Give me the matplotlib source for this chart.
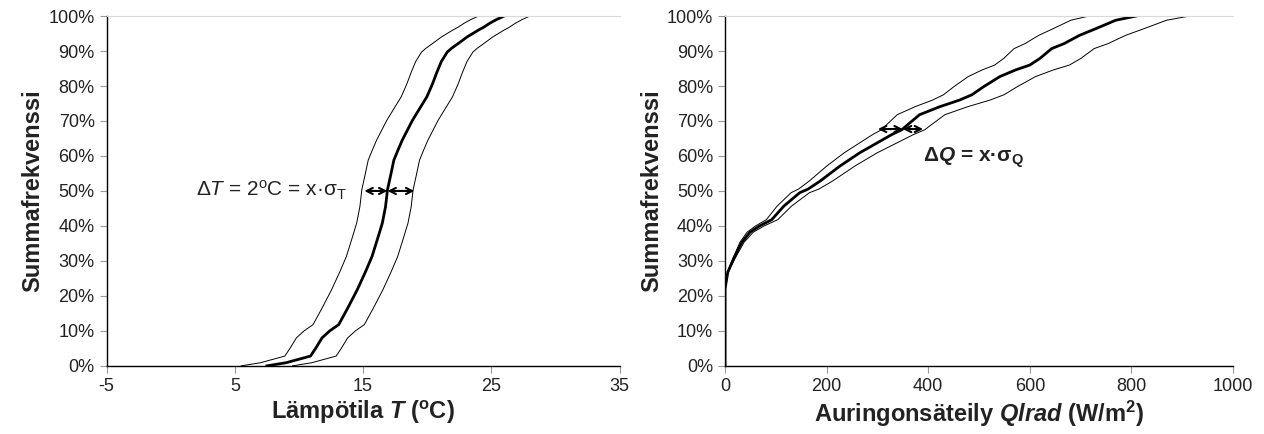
import numpy as np
import matplotlib.pyplot as plt
from matplotlib.ticker import PercentFormatter

plt.rcParams['font.family'] = ['Liberation Sans', 'DejaVu Sans']
plt.rcParams['mathtext.fontset'] = 'custom'
plt.rcParams['mathtext.rm'] = 'Liberation Sans'
plt.rcParams['mathtext.it'] = 'Liberation Sans:italic'
plt.rcParams['mathtext.bf'] = 'Liberation Sans:bold'
plt.rcParams['mathtext.bfit'] = 'Liberation Sans:bold:italic'
plt.rcParams['axes.unicode_minus'] = False

# left panel: temperature cumulative frequency (centre curve)
temp_c = [7.5, 9.0, 10.1, 10.9, 11.3, 11.8, 12.4, 13.1, 13.8, 14.55, 15.2, 15.7,
          16.1, 16.5, 16.75, 16.9, 17.15, 17.4, 17.7, 18.05, 18.4, 18.85, 19.4,
          19.97, 20.4, 20.76, 21.1, 21.56, 21.9, 22.36, 23.1, 23.95, 24.4, 24.9,
          25.4, 26.0]
temp_p = [0.0, 0.9, 2.0, 2.8, 5.0, 8.0, 10.0, 11.8, 16.5, 21.8, 27.0, 31.3,
          36.0, 40.8, 45.5, 50.3, 54.5, 58.8, 61.5, 64.5, 67.0, 70.2, 73.5,
          76.9, 80.5, 84.0, 87.0, 89.7, 90.8, 92.0, 94.0, 95.9, 96.8, 98.0,
          99.0, 100.0]
delta_t = 2.0

# right panel: solar radiation cumulative frequency (centre curve)
rad_q = [0, 0, 5.5, 17, 33, 49, 68, 92, 116, 147, 163, 187, 226, 265, 305, 328,
         348, 360, 383, 423, 462, 486, 509, 541, 572, 600, 620, 643, 667, 698,
         730, 769, 809]
rad_p = [0.0, 22.0, 26.8, 30.6, 35.3, 38.2, 40.0, 41.8, 45.7, 49.5, 50.5, 52.8,
         57.1, 60.9, 64.2, 66.1, 67.5, 69.0, 71.8, 74.1, 76.0, 77.5, 79.8, 82.7,
         84.6, 86.0, 87.9, 90.7, 92.1, 94.5, 96.4, 98.8, 100.0]
q_factor = 1.13

fig = plt.figure(figsize=(12.64, 4.34), dpi=100, facecolor='white')
ax1 = fig.add_axes([0.0843, 0.157, 0.4059, 0.806])
ax2 = fig.add_axes([0.5736, 0.157, 0.4019, 0.806])

tc = np.array(temp_c)
ax1.plot(tc - delta_t, temp_p, color='black', lw=0.7)
ax1.plot(tc + delta_t, temp_p, color='black', lw=0.7)
ax1.plot(tc, temp_p, color='black', lw=2.0)

qc = np.array(rad_q, dtype=float)
ax2.plot(qc / q_factor, rad_p, color='black', lw=0.7)
ax2.plot(qc * q_factor, rad_p, color='black', lw=0.7)
ax2.plot(qc, rad_p, color='black', lw=2.0)

for ax in (ax1, ax2):
    ax.set_ylim(0, 100)
    ax.set_yticks(np.arange(0, 101, 10))
    ax.yaxis.set_major_formatter(PercentFormatter(decimals=0))
    ax.spines['right'].set_visible(False)
    ax.spines['top'].set_color('#d9d9d9')
    for s in ('left', 'bottom'):
        ax.spines[s].set_linewidth(1.0)
    ax.tick_params(labelsize=13, labelcolor='#222222', color='#999999',
                   length=5, width=0.8)
    ax.set_ylabel('Summafrekvenssi', fontsize=17, fontweight='bold',
                  color='#222222', labelpad=3)

ax1.set_xlim(-5, 35)
ax1.set_xticks([-5, 5, 15, 25, 35])
ax1.set_xlabel(r'Lämpötila $\mathbfit{T}$ ($^{\mathbf{o}}$C)', fontsize=17,
               fontweight='bold', color='#222222', labelpad=3)

ax2.set_xlim(0, 1000)
ax2.set_xticks(np.arange(0, 1001, 200))
ax2.set_xlabel(r'Auringonsäteily $\mathbfit{Qlrad}$ (W/m$^{\mathbf{2}}$)',
               fontsize=17, fontweight='bold', color='#222222', labelpad=3)

arrow = dict(arrowstyle='<->', color='black', lw=1.5, shrinkA=0, shrinkB=0,
             mutation_scale=11)
ax1.annotate('', xy=(15.1, 50), xytext=(16.9, 50), arrowprops=arrow)
ax1.annotate('', xy=(16.9, 50), xytext=(19.0, 50), arrowprops=arrow)
ax1.text(13.75, 50.3, r'Δ$\mathit{T}$ = 2$^{\mathrm{o}}$C = x·σ$_{\mathrm{T}}$',
         fontsize=15, color='#222222', ha='right', va='center')

ax2.annotate('', xy=(301, 67.7), xytext=(350, 67.7), arrowprops=arrow)
ax2.annotate('', xy=(350, 67.7), xytext=(390, 67.7), arrowprops=arrow)
ax2.text(390, 59.5, r'Δ$\mathbfit{Q}$ = x·σ$_{\mathbf{Q}}$', fontsize=15,
         fontweight='bold', color='#222222', ha='left', va='center')

fig.savefig('out.png', dpi=100, facecolor='white')
